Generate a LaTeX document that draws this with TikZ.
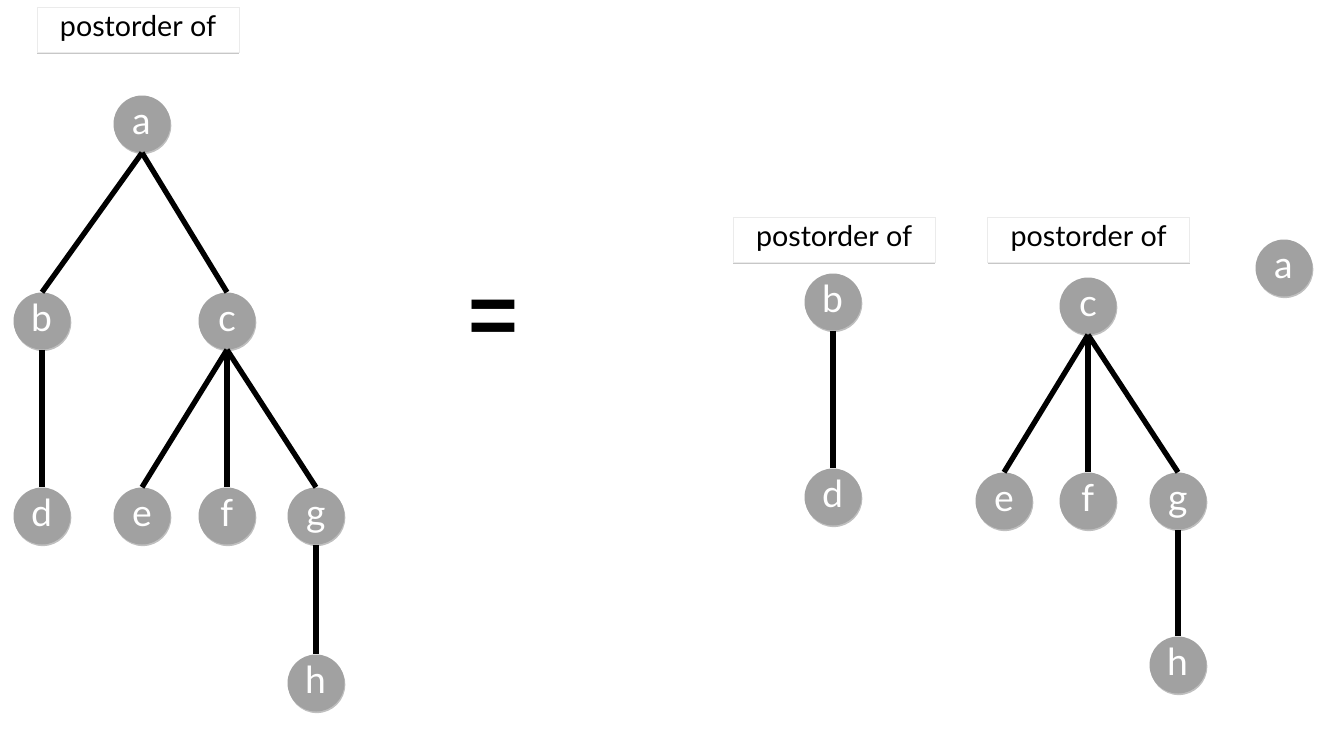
\documentclass[tikz,border=0pt]{standalone}
\usepackage{fontspec}
\setmainfont{Lato}
\newfontfamily\eqfont{Liberation Sans}
\usetikzlibrary{shadows}
\begin{document}
\begin{tikzpicture}[x=0.75pt,y=-0.75pt,
  vert/.style={circle, fill=black!37, text=white, minimum size=42.75pt, inner sep=0pt,
    text height=15pt, text depth=0pt,
    font=\fontsize{28}{28}\selectfont,
    drop shadow={shadow xshift=0.6pt, shadow yshift=-1.2pt, opacity=0.25, fill=black}},
  edge/.style={line width=4pt, black},
  lab/.style={fill=white, draw=black!8, line width=0.6pt, minimum width=151.5pt, minimum height=33.75pt, inner sep=0pt,
    text height=11pt, text depth=0pt,
    font=\fontsize{21.5}{22}\selectfont,
    drop shadow={shadow xshift=0.3pt, shadow yshift=-1.8pt, opacity=0.22, fill=black}}
]
\useasboundingbox[fill=white] (0,0) rectangle (1323,739);

% left tree
\node[lab] (L0) at (138,29.5) {postorder of};
\node[vert] (a) at (142,124) {a};
\node[vert] (b) at (42,321) {b};
\node[vert] (c) at (227,321) {c};
\node[vert] (d) at (42,516) {d};
\node[vert] (e) at (142,516) {e};
\node[vert] (f) at (227,516) {f};
\node[vert] (g) at (316,516) {g};
\node[vert] (h) at (316,683) {h};
\draw[edge] (a.south) -- (b.north);
\draw[edge] (a.south) -- (c.north);
\draw[edge] (b.south) -- (d.north);
\draw[edge] (c.south) -- (e.north);
\draw[edge] (c.south) -- (f.north);
\draw[edge] (c.south) -- (g.north);
\draw[edge] (g.south) -- (h.north);

% equals
\node[inner sep=0pt, font=\eqfont\bfseries\fontsize{64}{64}\selectfont] (eq) at (493,322) {=};

% right side
\node[lab] (L1) at (834,239.5) {postorder of};
\node[lab] (L2) at (1088.5,239.5) {postorder of};
\node[vert] (b2) at (833,302) {b};
\node[vert] (d2) at (833,497) {d};
\node[vert] (c2) at (1088,306) {c};
\node[vert] (e2) at (1004,501) {e};
\node[vert] (f2) at (1088,501) {f};
\node[vert] (g2) at (1178,501) {g};
\node[vert] (h2) at (1178,665) {h};
\node[vert] (a2) at (1284,268) {a};
\draw[edge] (b2.south) -- (d2.north);
\draw[edge] (c2.south) -- (e2.north);
\draw[edge] (c2.south) -- (f2.north);
\draw[edge] (c2.south) -- (g2.north);
\draw[edge] (g2.south) -- (h2.north);
\end{tikzpicture}
\end{document}
